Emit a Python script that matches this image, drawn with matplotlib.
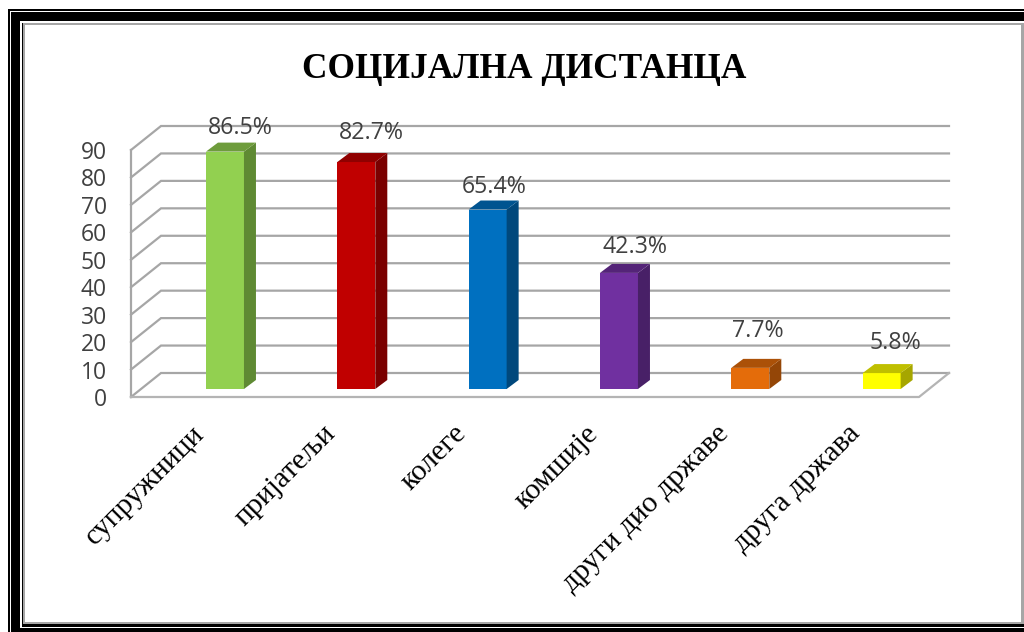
import numpy as np
import matplotlib
matplotlib.use("Agg")
import matplotlib.pyplot as plt
from matplotlib.patches import Rectangle

categories = ["супружници", "пријатељи", "колеге", "комшије", "други дио државе", "друга држава"]
values = [86.5, 82.7, 65.4, 42.3, 7.7, 5.8]
y_ticks = [0, 10, 20, 30, 40, 50, 60, 70, 80, 90]

front_colors = ["#92D050", "#C00000", "#0070C0", "#7030A0", "#E46C0A", "#FFFF00"]
side_colors = ["#5F8A33", "#7A0000", "#00487C", "#482067", "#944607", "#A6A600"]
top_colors = ["#6E9C3C", "#900000", "#005490", "#542478", "#AB5108", "#BFBF00"]

W, H = 1024, 632
GRID = "#A6A6A6"

fig = plt.figure(figsize=(W / 100, H / 100), dpi=100, facecolor="white")

# frame, in pixel coordinates
bg = fig.add_axes([0, 0, 1, 1])
bg.set_xlim(0, W)
bg.set_ylim(H, 0)
bg.axis("off")


def box(x0, y0, x1, y1, color):
    bg.add_patch(Rectangle((x0, y0), x1 - x0, y1 - y0, facecolor=color, edgecolor="none"))


box(8, 9, W, H, "black")
box(10, 11, W, H, "white")
box(11, 12, W, H, "black")
box(20, 21, W, 628, "white")
box(22, 23, W, 627, "black")
box(23, 23, W, 624, "#A6A6A6")
box(25, 25, 1021, 622, "white")

# front plane of the fake 3d box
left, right, bottom, top = 131, 919, 397, 150
ax = fig.add_axes([left / W, 1 - bottom / H, (right - left) / W, (bottom - top) / H])
ax.patch.set_alpha(0)
ax.set_xlim(-0.5, 5.5)
ax.set_ylim(0, 90)
for s in ax.spines.values():
    s.set_visible(False)

px_x = 6 / (right - left)
px_y = 90 / (bottom - top)
wall_dx, wall_dy = 30 * px_x, 24 * px_y

# walls and gridlines
for t in y_ticks:
    ax.plot([-0.5, -0.5 + wall_dx, 5.5 + wall_dx], [t, t + wall_dy, t + wall_dy],
            color=GRID, lw=1.6, clip_on=False, zorder=1, solid_joinstyle="miter")
ax.plot([-0.5, -0.5], [0, 90], color=GRID, lw=1.6, clip_on=False, zorder=1)
ax.plot([-0.5, 5.5, 5.5 + wall_dx], [0, 0, wall_dy], color="#B4B4B4", lw=1.6,
        clip_on=False, zorder=1)

# bars
x = np.arange(len(categories))
bar_x = x + 28.3 * px_x
bar_w = 38 * px_x
lift = 8 * px_y
dx, dy = 12 * px_x, 9 * px_y
ax.bar(bar_x, values, width=bar_w, bottom=lift, color=front_colors, zorder=3, clip_on=False)
for bx, v, sc, tc in zip(bar_x, values, side_colors, top_colors):
    r = bx + bar_w / 2
    l = bx - bar_w / 2
    t = v + lift
    ax.fill([r, r + dx, r + dx, r], [lift, lift + dy, t + dy, t], color=sc, lw=0, zorder=3, clip_on=False)
    ax.fill([l, l + dx, r + dx, r], [t, t + dy, t + dy, t], color=tc, lw=0, zorder=3, clip_on=False)

# data labels, hand placed like in the original
label_dx = [15, 15, 7, 16, 8, 14]
label_dy = [24, 29, 23, 26, 37, 30]
for bx, v, ox, oy in zip(bar_x, values, label_dx, label_dy):
    ax.annotate(f"{v}%", (bx, v + lift), xytext=(ox, oy), textcoords="offset pixels",
                ha="center", va="center", fontsize=16.7, family="Open Sans",
                color="#404040", zorder=5, annotation_clip=False)

ax.set_yticks(y_ticks)
ax.set_yticklabels([str(t) for t in y_ticks], fontsize=16.5, family="Open Sans", color="#404040")
ax.tick_params(axis="y", length=0, pad=17.5)

ax.set_xticks(x - 6 * px_x)
ax.set_xticklabels(categories, rotation=45, ha="right", va="top", rotation_mode="anchor",
                   fontsize=21.3, family="Liberation Serif", color="black")
ax.tick_params(axis="x", length=0, pad=17)

bg.text(524, 69, "СОЦИЈАЛНА ДИСТАНЦА", ha="center", va="center", fontsize=25.4,
        fontweight="bold", family="Liberation Serif", color="black")

fig.savefig("out.png", dpi=100)
